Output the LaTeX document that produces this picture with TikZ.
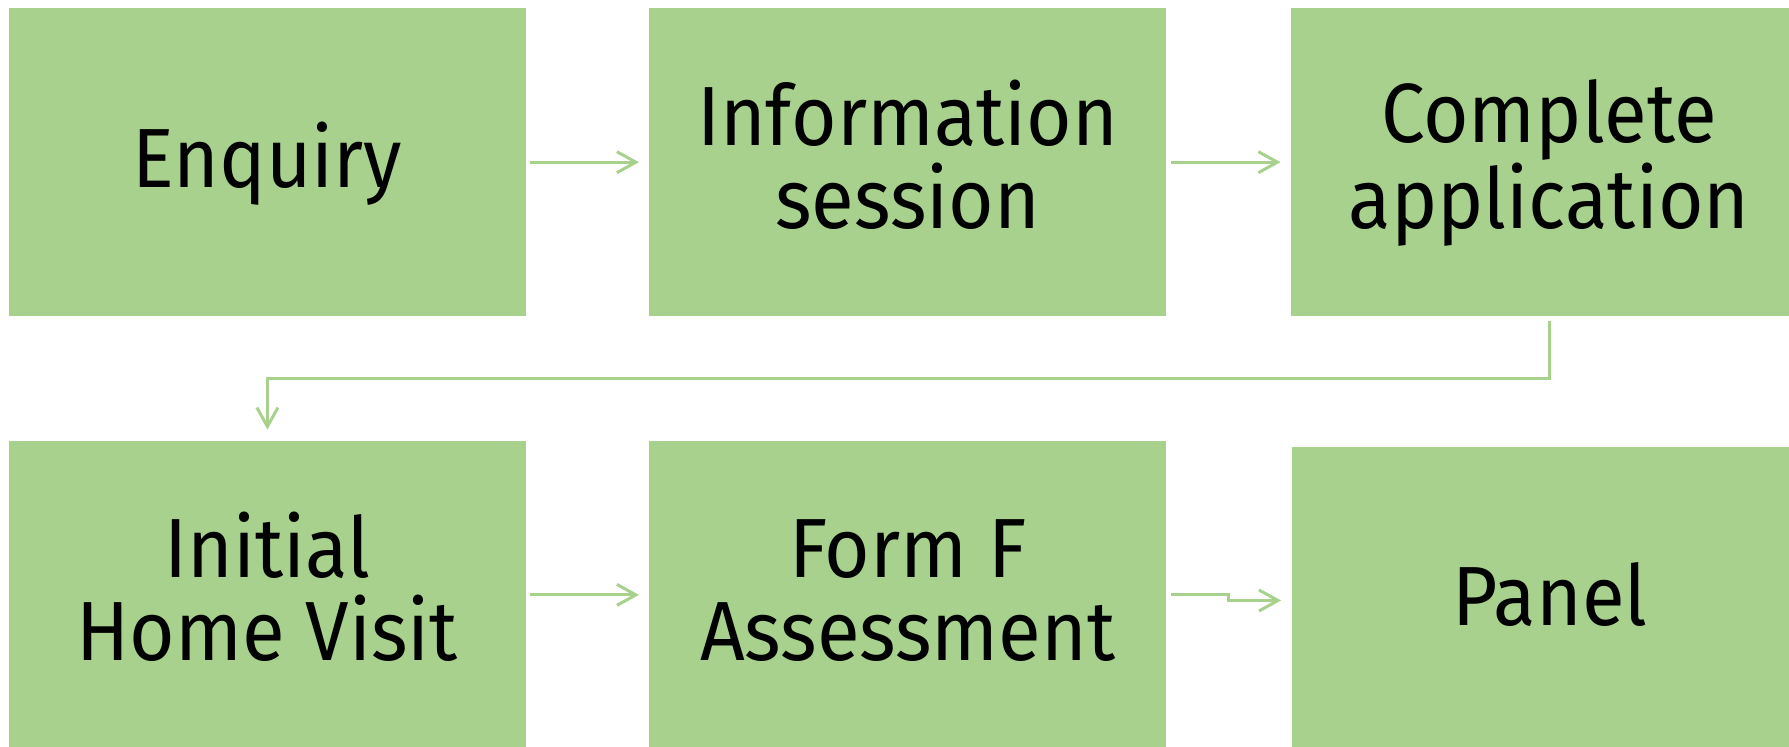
\documentclass[tikz,border=0pt]{standalone}
\usepackage{fontspec}
\setmainfont{Fira Sans}[FakeStretch=0.93]
\usetikzlibrary{arrows.meta}
\definecolor{boxgreen}{RGB}{169,209,142}
\begin{document}
\begin{tikzpicture}[x=0.5pt,y=-0.5pt,
  stage/.style={rectangle, fill=boxgreen, minimum width=258.5pt, minimum height=153.85pt,
    inner sep=0pt, align=center, font=\fontsize{42}{41.5}\selectfont, text=black,
    text height=30pt, text depth=5pt},
  twoline/.style={text height=71pt, text depth=5pt},
  flow/.style={draw=boxgreen, line width=1.5pt, -{Straight Barb[length=9.5pt,width=10.5pt]}}]
\useasboundingbox (0,0) rectangle (1789,747);
\clip (0,0) rectangle (1789,747);
\node[stage] (enq) at (267.4,162.2) {Enquiry};
\node[stage, twoline] (info) at (907.7,162.2) {Information\\session};
\node[stage, twoline] (comp) at (1549,162.2) {Complete\\application};
\node[stage, twoline] (ihv) at (267.4,594.9) {Initial\\Home Visit};
\node[stage, twoline] (formf) at (907.7,594.9) {Form F\\Assessment};
\node[stage] (panel) at (1550,600.5) {Panel};
\coordinate (bend) at (267.4,378.3);
\coordinate (step5) at (1228.3,594.9);
\draw[flow, shorten <=1.75pt, shorten >=4.9pt] (enq.east) -- (info.west);
\draw[flow, shorten <=2.2pt, shorten >=4.8pt] (info.east) -- (comp.west);
\draw[flow, shorten <=2.35pt, shorten >=5.5pt] (comp.south) |- (bend) -- (ihv.north);
\draw[flow, shorten <=1.75pt, shorten >=4.9pt] (ihv.east) -- (formf.west);
\draw[flow, shorten <=2.2pt, shorten >=5pt] (formf.east) -- (step5) |- (panel.west);
\end{tikzpicture}
\end{document}
